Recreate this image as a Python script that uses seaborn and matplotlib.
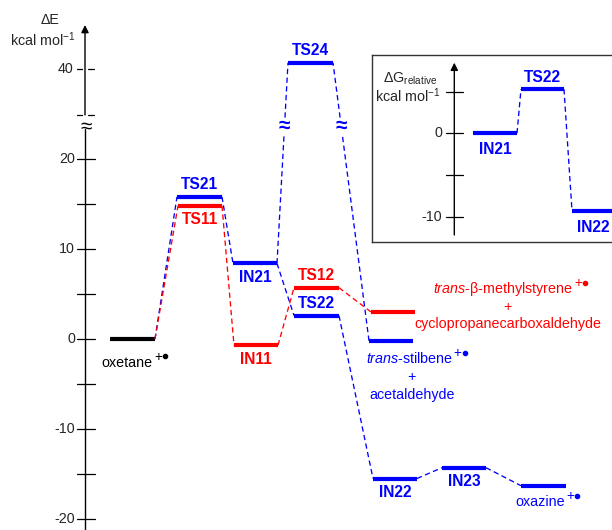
import numpy as np
import pandas as pd
import matplotlib
matplotlib.use("Agg")
import matplotlib.pyplot as plt
import seaborn as sns

# ---------------- data ----------------
states = ["oxetane", "TS21", "TS11", "IN21", "IN11", "TS24", "TS12", "TS22",
          "P_methylstyrene", "P_stilbene", "IN22", "IN23", "oxazine"]
energies = [0.0, 15.8, 14.8, 8.4, -0.7, 40.7, 5.7, 2.6, 3.0, -0.2, -15.5, -14.3, -16.3]
pathway = ["start", "blue", "red", "blue", "red", "blue", "red", "blue",
           "red", "blue", "blue", "blue", "blue"]
connections = [("oxetane", "TS21"), ("oxetane", "TS11"), ("TS21", "IN21"),
               ("TS11", "IN11"), ("IN21", "TS24"), ("TS24", "P_stilbene"),
               ("IN21", "TS22"), ("IN11", "TS12"), ("TS12", "P_methylstyrene"),
               ("TS22", "IN22"), ("IN22", "IN23"), ("IN23", "oxazine")]

inset_states = ["IN21", "TS22", "IN22"]
inset_energies = [0.0, 5.3, -9.3]
inset_connections = [("IN21", "TS22"), ("TS22", "IN22")]

main_ticks = [-20, -15, -10, -5, 0, 5, 10, 15, 20]
main_tick_labels = ["-20", "", "-10", "", "0", "", "10", "", "20"]
upper_tick = 40
upper_tick_label = "40"
inset_ticks = [-10, -5, 0, 5]
inset_tick_labels = ["-10", "", "0", ""]

# ---------------- layout (pixels) ----------------
W, H = 612, 530
PX0, PXU = 339.0, 9.0           # main: pixel of 0 and pixels per kcal
BREAK_LO, BREAK_SHIFT = 25.0, 10.0
xpos = {"oxetane": (110, 155), "TS21": (177, 222), "TS11": (178, 222),
        "IN21": (233, 277), "IN11": (234, 278), "TS24": (288, 333),
        "TS12": (294, 339), "TS22": (294, 339), "P_methylstyrene": (371, 415),
        "P_stilbene": (369, 413), "IN22": (373, 417), "IN23": (442, 486),
        "oxazine": (521, 566)}
label_side = {"TS21": "above", "TS11": "below", "IN21": "below", "IN11": "below",
              "TS24": "above", "TS12": "above", "TS22": "above", "IN22": "below",
              "IN23": "below"}
inset_xpos = {"IN21": (473, 517), "TS22": (521, 564), "IN22": (572, 660)}
inset_label = {"IN21": ("below", "center"), "TS22": ("above", "center"),
               "IN22": ("below", "left")}
IPX0, IPXU = 133.3, 8.33
INSET_BOX = (372, 55, 645, 242)   # x0, y0(top), x1, y1(bottom) in px

colors = {"start": "#000000", "blue": "#0000FF", "red": "#FF0000"}

sns.set_theme(style="white")
plt.rcParams["font.family"] = ["Liberation Sans", "DejaVu Sans"]
plt.rcParams["mathtext.fontset"] = "custom"
plt.rcParams["mathtext.rm"] = "Liberation Sans"
plt.rcParams["mathtext.it"] = "Liberation Sans:italic"
plt.rcParams["mathtext.bf"] = "Liberation Sans:bold"

FS = 10.3
BFS = 11.2
DASH = (0, (4, 2.6))


def to_axis(e):
    return e if e <= BREAK_LO else e - BREAK_SHIFT


fig = plt.figure(figsize=(W / 100, H / 100), dpi=100)
ax = fig.add_axes([0, 0, 1, 1])
ax.set_xlim(0, W)
ax.set_ylim((PX0 - H) / PXU, PX0 / PXU)
ax.axis("off")

E = {s: to_axis(e) for s, e in zip(states, energies)}
P = dict(zip(states, pathway))

# ---- level bars ----
rows = []
for s in states:
    x0, x1 = xpos[s]
    rows += [dict(id=s, x=x0, y=E[s], path=P[s]), dict(id=s, x=x1, y=E[s], path=P[s])]
bars = pd.DataFrame(rows)
n0 = len(ax.lines)
sns.lineplot(data=bars, x="x", y="y", hue="path", units="id", estimator=None,
             palette=colors, linewidth=3.0, legend=False, sort=False, ax=ax)
for ln in ax.lines[n0:]:
    ln.set_solid_capstyle("butt")

# ---- dashed connectors (with axis break) ----
brk_lo, brk_hi, brk_mid = 22.7, 24.6, 23.65
crow = []
squiggles = []
k = 0
for a, b in connections:
    xa, ya = xpos[a][1], E[a]
    xb, yb = xpos[b][0], E[b]
    col = P[b]
    if max(ya, yb) > BREAK_LO:
        def xat(v):
            return xa + (xb - xa) * (v - ya) / (yb - ya)
        lo_end, hi_end = ((xa, ya), (xb, yb)) if ya < yb else ((xb, yb), (xa, ya))
        crow += [dict(id=k, x=lo_end[0], y=lo_end[1], path=col),
                 dict(id=k, x=xat(brk_lo), y=brk_lo, path=col)]
        k += 1
        crow += [dict(id=k, x=xat(brk_hi), y=brk_hi, path=col),
                 dict(id=k, x=hi_end[0], y=hi_end[1], path=col)]
        k += 1
        squiggles.append((xat(brk_mid), brk_mid, col))
    else:
        crow += [dict(id=k, x=xa, y=ya, path=col), dict(id=k, x=xb, y=yb, path=col)]
        k += 1
conn = pd.DataFrame(crow)
n0 = len(ax.lines)
sns.lineplot(data=conn, x="x", y="y", hue="path", units="id", estimator=None,
             palette=colors, linewidth=0.95, legend=False, sort=False, ax=ax)
for ln in ax.lines[n0:]:
    ln.set_linestyle(DASH)
for x, y, c in squiggles:
    ax.text(x, y, "≈", color=colors[c], fontsize=15, ha="center", va="center",
            fontweight="bold")

# ---- main axis ----
AX_X = 85
ybot = (PX0 - H) / PXU
ytop_arrow = (PX0 - 25) / PXU
ax.plot([AX_X, AX_X], [ybot, brk_lo + 0.6], color="black", lw=1.0)
ax.annotate("", xy=(AX_X, ytop_arrow), xytext=(AX_X, BREAK_LO - 0.1),
            arrowprops=dict(arrowstyle="-|>", color="black", lw=1.0,
                            mutation_scale=11, shrinkA=0, shrinkB=0))
ax.text(AX_X + 1, brk_mid - 0.15, "≈", color="black", fontsize=15, ha="center",
        va="center")
for t, lab in zip(main_ticks, main_tick_labels):
    ax.plot([77, 94.5], [t, t], color="black", lw=0.9)
    if lab:
        ax.text(75, t, lab, ha="right", va="center", fontsize=FS)
# tick at the break
ax.plot([77, 82], [BREAK_LO - 0.1] * 2, color="black", lw=0.9)
ax.plot([88, 94], [BREAK_LO - 0.1] * 2, color="black", lw=0.9)
ut = to_axis(upper_tick)
ax.plot([77, 82], [ut, ut], color="black", lw=0.9)
ax.plot([88, 94], [ut, ut], color="black", lw=0.9)
ax.text(73, ut, upper_tick_label, ha="right", va="center", fontsize=FS)
ax.text(50, (PX0 - 20) / PXU, "ΔE", ha="center", va="center", fontsize=FS)
ax.text(43, (PX0 - 40) / PXU, "kcal mol$^{-1}$", ha="center", va="center", fontsize=FS)

# ---- bold state labels ----
for s, side in label_side.items():
    x0, x1 = xpos[s]
    dy = 5.4 if side == "above" else -13.3
    ax.annotate(s, xy=((x0 + x1) / 2, E[s]), xytext=(0, dy), textcoords="offset points",
                ha="center", va="baseline", fontsize=BFS, fontweight="bold",
                color=colors[P[s]])


# ---- species labels ----
def ty(px):
    return (PX0 - px) / PXU


def radical(x_right, y_base, color):
    # "+" superscript followed by a filled dot (radical cation sign)
    ax.annotate("+", xy=(x_right, y_base), xytext=(1.0, 4.2), textcoords="offset points",
                ha="left", va="baseline", fontsize=FS * 0.95, color=color)
    ax.plot([x_right + 12.5], [y_base + 10.5 / PXU], marker="o", ms=3.0, color=color,
            mec=color, ls="none")


def species(x, pxb, text, color, ha="center", rad=False):
    t = ax.text(x, ty(pxb), text, ha=ha, va="baseline", fontsize=FS, color=color)
    if rad:
        fig.canvas.draw()
        bb = t.get_window_extent()
        xr = ax.transData.inverted().transform((bb.x1, bb.y0))[0]
        radical(xr, ty(pxb), color)
    return t


species(127, 366.7, "oxetane", "black", rad=True)
species(540, 506, "oxazine", colors["blue"], rad=True)
species(503, 293, r"$\mathit{trans}$-β-methylstyrene", colors["red"], rad=True)
ax.text(507.5, ty(306.7), "+", ha="center", va="center", fontsize=FS, color=colors["red"])
species(507.5, 328, "cyclopropanecarboxaldehyde", colors["red"])
species(409, 363, r"$\mathit{trans}$-stilbene", colors["blue"], rad=True)
ax.text(411.7, ty(376.7), "+", ha="center", va="center", fontsize=FS, color=colors["blue"])
species(412.5, 399, "acetaldehyde", colors["blue"])

# ---------------- inset ----------------
bx0, by0, bx1, by1 = INSET_BOX
iax = fig.add_axes([bx0 / W, (H - by1) / H, (bx1 - bx0) / W, (by1 - by0) / H])
iax.set_xlim(bx0, bx1)
iax.set_ylim((IPX0 - by1) / IPXU, (IPX0 - by0) / IPXU)
iax.set_xticks([])
iax.set_yticks([])
iax.set_facecolor("white")
for sp in iax.spines.values():
    sp.set_visible(True)
    sp.set_color("#333333")
    sp.set_linewidth(1.0)

IE = dict(zip(inset_states, inset_energies))
rows = []
for s in inset_states:
    x0, x1 = inset_xpos[s]
    rows += [dict(id=s, x=x0, y=IE[s]), dict(id=s, x=x1, y=IE[s])]
ibars = pd.DataFrame(rows)
n0 = len(iax.lines)
sns.lineplot(data=ibars, x="x", y="y", units="id", estimator=None, color=colors["blue"],
             linewidth=3.0, legend=False, sort=False, ax=iax)
for ln in iax.lines[n0:]:
    ln.set_solid_capstyle("butt")
rows = []
for i, (a, b) in enumerate(inset_connections):
    rows += [dict(id=i, x=inset_xpos[a][1], y=IE[a]), dict(id=i, x=inset_xpos[b][0], y=IE[b])]
iconn = pd.DataFrame(rows)
n0 = len(iax.lines)
sns.lineplot(data=iconn, x="x", y="y", units="id", estimator=None, color=colors["blue"],
             linewidth=0.95, legend=False, sort=False, ax=iax)
for ln in iax.lines[n0:]:
    ln.set_linestyle(DASH)

IAX_X = 454.3
iax.annotate("", xy=(IAX_X, (IPX0 - 62.7) / IPXU), xytext=(IAX_X, (IPX0 - 235) / IPXU),
             arrowprops=dict(arrowstyle="-|>", color="black", lw=1.0, mutation_scale=11,
                             shrinkA=0, shrinkB=0))
for t, lab in zip(inset_ticks, inset_tick_labels):
    iax.plot([446, 463], [t, t], color="black", lw=0.9)
    if lab:
        iax.text(442, t, lab, ha="right", va="center", fontsize=FS)
iax.text(410, (IPX0 - 79) / IPXU, r"ΔG$_{\mathrm{relative}}$", ha="center", va="center",
         fontsize=FS)
iax.text(408, (IPX0 - 96) / IPXU, "kcal mol$^{-1}$", ha="center", va="center", fontsize=FS)

for s, (side, ha) in inset_label.items():
    x0, x1 = inset_xpos[s]
    dy = 5.0 if side == "above" else -15.0
    xx = (x0 + x1) / 2 if ha == "center" else x0 + 5
    iax.annotate(s, xy=(xx, IE[s]), xytext=(0, dy), textcoords="offset points",
                 ha=ha, va="baseline", fontsize=BFS, fontweight="bold", color=colors["blue"])

fig.savefig("out.png", dpi=100)
